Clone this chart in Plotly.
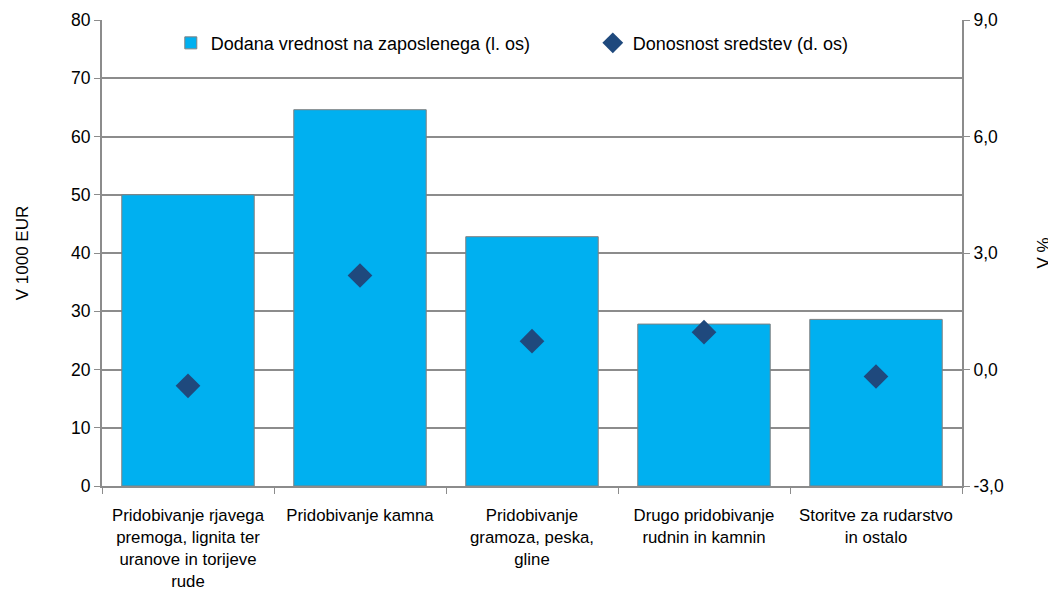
import plotly.graph_objects as go

categories = [
    "Pridobivanje rjavega<br>premoga, lignita ter<br>uranove in torijeve<br>rude",
    "Pridobivanje kamna",
    "Pridobivanje<br>gramoza, peska,<br>gline",
    "Drugo pridobivanje<br>rudnin in kamnin",
    "Storitve za rudarstvo<br>in ostalo",
]
dodana_vrednost = [50.0, 64.6, 42.8, 27.8, 28.6]
donosnost = [-0.42, 2.42, 0.73, 0.96, -0.18]
right_ticks = [-3, 0, 3, 6, 9]
right_labels = ["-3,0", "0,0", "3,0", "6,0", "9,0"]

grid = "#8c8c8c"
font = "Liberation Sans, Arial, sans-serif"

fig = go.Figure()
fig.add_trace(go.Bar(
    x=categories, y=dodana_vrednost,
    name="Dodana vrednost na zaposlenega (l. os)",
    marker=dict(color="#00B0F0", line=dict(color="#808080", width=1)),
))
fig.add_trace(go.Scatter(
    x=categories, y=donosnost, yaxis="y2", mode="markers",
    name="Donosnost sredstev (d. os)",
    marker=dict(symbol="diamond", size=19, color="#1F497D"),
))

# page body has an 8px margin, so shift margins to line up with the reference
fig.update_layout(
    width=1056, height=592,
    margin=dict(l=94, r=102, t=12, b=114),
    plot_bgcolor="white", paper_bgcolor="white",
    font=dict(family=font, size=17, color="#000000"),
    bargap=0.23,
    showlegend=True,
    legend=dict(orientation="h", x=0.08, y=0.99, xanchor="left", yanchor="top",
                bgcolor="rgba(0,0,0,0)", font=dict(size=18),
                entrywidth=377, entrywidthmode="pixels"),
    xaxis=dict(
        showline=True, linecolor=grid, linewidth=2,
        ticks="outside", tickson="boundaries", tickcolor=grid, ticklen=6,
        tickfont=dict(size=16.8), showgrid=False,
        ticklabelstandoff=13, automargin=False,
    ),
    yaxis=dict(
        title=dict(text="V 1000 EUR", font=dict(size=17), standoff=38),
        range=[0, 80], dtick=10, tickfont=dict(size=17.5),
        showline=True, linecolor=grid, linewidth=2,
        ticks="outside", tickcolor=grid, ticklen=6,
        showgrid=True, gridcolor=grid, gridwidth=1.5,
        zeroline=False, automargin=False,
    ),
    yaxis2=dict(
        title=dict(text="V %", font=dict(size=17), standoff=34),
        overlaying="y", side="right",
        range=[-3, 9], tickvals=right_ticks, ticktext=right_labels,
        tickfont=dict(size=17.5),
        showline=True, linecolor=grid, linewidth=2,
        ticks="outside", tickcolor=grid, ticklen=6,
        showgrid=False, zeroline=False, automargin=False,
    ),
)

fig.write_html("out.html")
